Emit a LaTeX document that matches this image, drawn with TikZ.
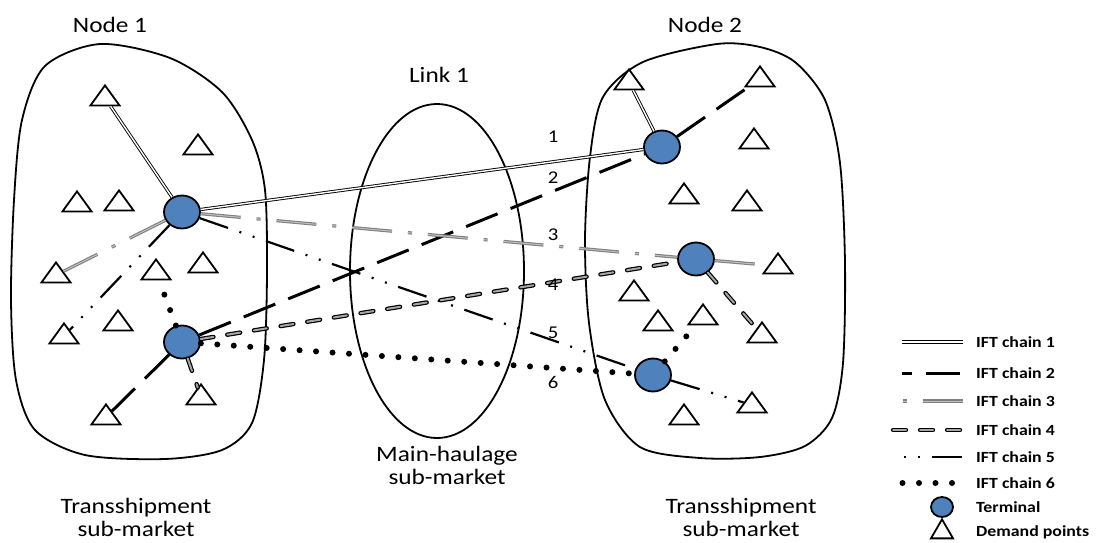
\documentclass[tikz,border=0pt]{standalone}
\usepackage{fontspec}
\setmainfont{Carlito}[FakeStretch=1.15]
\usetikzlibrary{shapes.geometric}

\definecolor{termblue}{RGB}{79,129,189}

\tikzset{
    area/.style={line width=1.8pt},
    terminal/.style={draw, ellipse, fill=termblue, line width=1.8pt, minimum width=36pt, minimum height=33pt, inner sep=0pt},
    demand/.style={draw, fill=white, isosceles triangle, shape border rotate=90, isosceles triangle apex angle=72,
        isosceles triangle stretches, minimum width=29pt, minimum height=20pt, inner sep=0pt, line width=1.8pt},
    title/.style={font=\fontsize{22}{23}\selectfont, inner sep=0pt},
    numlabel/.style={font=\fontsize{18}{20}\selectfont, inner sep=0pt, anchor=base},
    legtext/.style={font=\fontsize{15.5}{17}\selectfont\bfseries, inner sep=0pt, anchor=west},
    % line styles of the six IFT chains
    ift1/.style={line width=0.9pt, double=white, double distance=1.4pt},
    ift2/.style={line width=3pt, dash pattern=on 34pt off 14pt},
    ift3/.style={draw=black!50, double=black!25, line width=1.1pt, double distance=1pt, dash pattern=on 40pt off 16pt on 4pt off 16pt},
    ift4/.style={draw=black, double=black!35, line width=1.2pt, double distance=2pt, line cap=round, dash pattern=on 13pt off 14pt},
    ift5/.style={line width=2.2pt, dash pattern=on 30pt off 12pt on 2pt off 12pt on 2pt off 12pt},
    ift6/.style={line width=6pt, line cap=round, dash pattern=on 0pt off 16.5pt}
}

\begin{document}
\begin{tikzpicture}[x=1pt, y=-1pt]
    \useasboundingbox (0,0) rectangle (1096,542);

    % Transshipment sub-markets (Node 1 and Node 2)
    \draw[area] plot[smooth cycle] coordinates {(100,44) (170,58) (222,92) (252,140) (265,190) (267,273) (264,360)
        (252,423) (222,450) (165,459) (85,455) (35,430) (16,380) (11,300) (14,200) (22,120) (45,66)};
    \draw[area] plot[smooth cycle] coordinates {(717,44) (643,62) (603,97) (590,157) (585,240) (589,323) (605,400)
        (640,447) (700,458) (760,457) (805,446) (832,418) (843,363) (845,263) (840,163) (825,100) (795,62) (760,47)};

    % Main-haulage sub-market (Link 1)
    \node[draw, ellipse, line width=1.8pt, minimum width=174pt, minimum height=334pt] (link) at (437,271) {};

    % Titles and area names (base = last line)
    \node[title, anchor=base] (node1) at (110,32) {Node 1};
    \node[title, anchor=base] (node2) at (705,32) {Node 2};
    \node[title, anchor=base] (link1) at (439,82) {Link 1};
    \node[title, anchor=base, align=center] (sub1) at (136,536) {Transshipment\\sub-market};
    \node[title, anchor=base, align=center] (main) at (447,484) {Main-haulage\\sub-market};
    \node[title, anchor=base, align=center] (sub2) at (741,536) {Transshipment\\sub-market};

    % Demand points
    \foreach \x/\y [count=\k] in {105/98, 198/147, 77/204, 119/203, 56/275, 156/272, 203/265, 64/336, 118/323, 201/397, 106/417} {
        \node[demand] (dl\k) at (\x,\y) {};
    }
    \foreach \x/\y/\r [count=\k] in {629/82/90, 760/79/90, 754/141/90, 684/196/90, 747/203/90, 778/266/74, 634/293/90,
                                    703/317/90, 658/323/90, 762/335/90, 752/405/90, 684/417/90} {
        \node[demand, shape border rotate=\r] (dr\k) at (\x,\y) {};
    }

    % Terminals
    \node[terminal] (tA) at (182,212) {};
    \node[terminal] (tB) at (182,342) {};
    \node[terminal] (tC) at (662,147) {};
    \node[terminal] (tD) at (696,259) {};
    \node[terminal] (tE) at (653,375) {};

    % IFT chains
    \foreach \st/\a/\b in {ift1/tA/dl1, ift1/tA/tC, ift1/tC/dr1,
                           ift2/tB/dl11, ift2/tB/tC, ift2/tC/dr2,
                           ift3/tA/dl5, ift3/tA/tD, ift3/tD/dr6,
                           ift4/tB/dl10, ift4/tB/tD, ift4/tD/dr10,
                           ift5/tA/dl8, ift5/tA/tE, ift5/tE/dr11,
                           ift6/tB/dl6, ift6/tB/tE, ift6/tE/dr8} {
        \draw[\st] (\a) -- (\b);
    }

    % Chain numbers
    \foreach \n/\yy in {1/142, 2/183, 3/240, 4/290, 5/338, 6/388} {
        \node[numlabel] (n\n) at (553,\yy) {\n};
    }

    % Legend
    \foreach \i/\xa/\xb/\yy in {1/902/963/342, 2/902/960/373, 3/902/963/401, 4/890/960/430, 5/903/962/457, 6/902/952/483} {
        \coordinate (la\i) at (\xa,\yy);
        \coordinate (lb\i) at (\xb,\yy);
        \draw[ift\i] (lb\i) -- (la\i);
        \node[legtext] (lt\i) at (976,\yy) {IFT chain \i};
    }
    \node[terminal, minimum width=22pt, minimum height=20pt] (lterm) at (942,507) {};
    \node[legtext] (ltterm) at (976,507) {Terminal};
    \node[demand, minimum width=22pt, minimum height=19pt] (ldem) at (942,532) {};
    \node[legtext] (ltdem) at (976,532) {Demand points};
\end{tikzpicture}
\end{document}
